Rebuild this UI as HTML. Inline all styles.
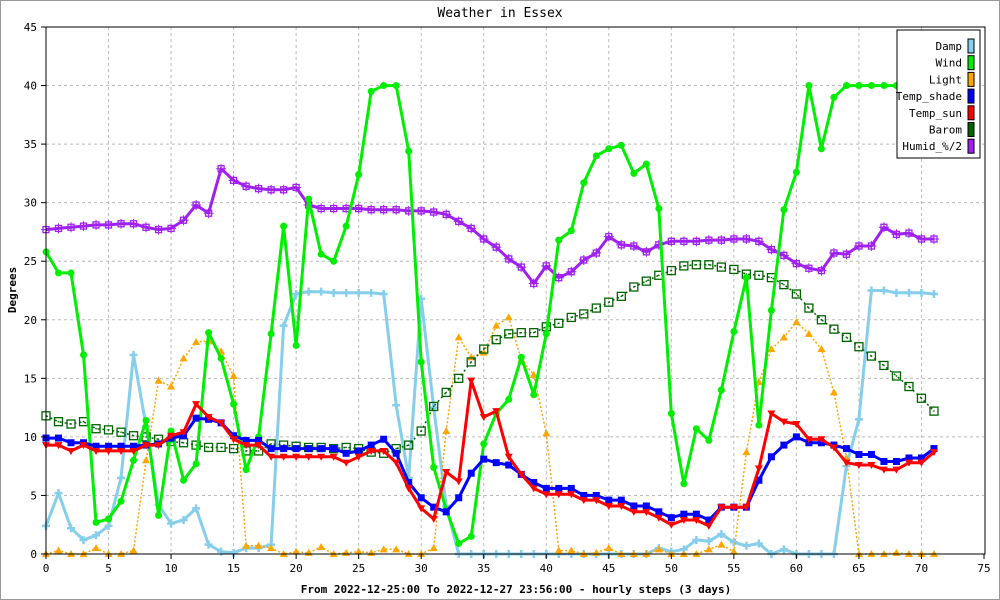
<!DOCTYPE html>
<html><head><meta charset="utf-8"><style>
body{margin:0;background:#fff}
svg{display:block;font-family:"DejaVu Sans Mono","Liberation Mono",monospace}
</style></head><body>
<svg id="chart" width="1000" height="600" viewBox="0 0 1000 600" xmlns="http://www.w3.org/2000/svg">
<rect x="0.5" y="0.5" width="999" height="599" fill="#fff" stroke="#999"/>
<text x="500" y="17" text-anchor="middle" font-size="13">Weather in Essex</text>
<text x="516" y="593" text-anchor="middle" font-size="11" font-weight="bold">From 2022-12-25:00 To 2022-12-27 23:56:00 - hourly steps (3 days)</text>
<text transform="translate(16,290) rotate(-90)" text-anchor="middle" font-size="11" font-weight="bold">Degrees</text>
<g id="grid"></g><g id="series"></g><g id="axes"></g><g id="legend"></g>
</svg>
<script>
const xTicks=[0,5,10,15,20,25,30,35,40,45,50,55,60,65,70,75];
const yTicks=[0,5,10,15,20,25,30,35,40,45];
const damp=[2.4,5.2,2.2,1.2,1.6,2.4,6.5,17,10.9,4.2,2.6,2.9,3.9,0.8,0.2,0.1,0.5,0.5,0.8,19.5,22.2,22.4,22.4,22.3,22.3,22.3,22.3,22.2,12.7,6.5,21.8,12.5,4.1,0,0,0,0,0,0,0,0,0,0,0,0,0,0,0,0,0.5,0.2,0.4,1.2,1.1,1.7,1.0,0.7,0.9,0,0.4,0,0,0,0,7.5,11.5,22.5,22.5,22.3,22.3,22.3,22.2];
const wind=[25.8,24,24,17,2.7,3,4.5,8,11.4,3.3,10.5,6.3,7.7,18.9,16.7,12.8,7.2,10,18.8,28,17.8,30.3,25.6,25,28,32.4,39.5,40,40,34.4,16.4,7.4,3.8,0.9,1.5,9.4,12,13.2,16.8,13.6,18.8,26.8,27.6,31.7,34,34.6,34.9,32.5,33.3,29.5,12,6,10.7,9.7,14,19,23.6,11,20.8,29.4,32.6,40,34.6,39,40,40,40,40,40,40,40,40];
const light=[0,0.3,0,0,0.5,0,0,0.3,8,14.8,14.3,16.7,18.1,18.2,17.3,15.2,0.7,0.7,0.5,0,0.2,0.1,0.6,0,0.1,0.2,0.1,0.4,0.4,0,0,0.5,10.5,18.5,16.8,17.2,19.5,20.2,16.6,15.3,10.3,0.3,0.3,0,0.1,0.5,0,0,0,0.4,0,0,0,0.4,0.8,0.2,8.7,14.7,17.5,18.5,19.8,18.8,17.5,13.8,8.2,0,0,0,0.1,0,0,0];
const tshade=[9.9,9.9,9.5,9.5,9.2,9.2,9.2,9.2,9.3,9.4,9.9,10.1,11.6,11.5,11.2,10.1,9.7,9.7,9,9,9,9,9,9,8.6,8.8,9.3,9.8,8.6,6.1,4.8,4,3.6,4.8,6.9,8.1,7.8,7.6,6.8,6.1,5.6,5.6,5.6,5.0,5.0,4.6,4.6,4.1,4.1,3.6,3.1,3.4,3.4,2.9,4,4,4,6.3,8.3,9.3,10,9.5,9.5,9.3,9,8.5,8.5,7.9,7.9,8.2,8.2,9];
const tsun=[9.3,9.3,8.8,9.3,8.8,8.8,8.8,8.8,9.3,9.3,10.1,10.4,12.8,11.7,11.2,9.8,9.3,9.3,8.3,8.3,8.3,8.3,8.3,8.3,7.8,8.3,8.8,8.8,7.8,5.6,3.9,3,7,6.2,14.8,11.7,12.2,8.3,6.8,5.6,5.1,5.1,5.1,4.6,4.6,4.1,4.1,3.6,3.6,3.1,2.5,2.9,2.9,2.4,4,4,4,7.3,12,11.3,11.1,9.8,9.8,9.1,7.8,7.6,7.6,7.2,7.2,7.8,7.8,8.7];
const barom=[11.8,11.3,11.1,11.3,10.7,10.6,10.4,10.1,10,9.8,9.6,9.5,9.3,9.1,9.1,9.0,8.8,8.8,9.4,9.3,9.2,9.1,9.1,9.0,9.1,9.0,8.7,8.6,9,9.3,10.5,12.6,13.8,15,16.4,17.5,18.3,18.8,18.9,18.9,19.4,19.7,20.2,20.5,21,21.5,22.0,22.8,23.3,23.8,24.2,24.6,24.7,24.7,24.5,24.3,23.9,23.8,23.6,23,22.2,21,20,19.2,18.5,17.7,16.9,16.1,15.2,14.3,13.3,12.2];
const humid=[27.7,27.8,27.9,28,28.1,28.1,28.2,28.2,27.9,27.7,27.8,28.5,29.8,29.1,32.9,31.9,31.4,31.2,31.1,31.1,31.3,29.8,29.5,29.5,29.5,29.5,29.4,29.4,29.4,29.3,29.3,29.2,29.0,28.4,27.8,26.9,26.2,25.2,24.5,23.1,24.6,23.6,24.1,25.1,25.7,27.1,26.4,26.3,25.8,26.4,26.7,26.7,26.7,26.8,26.8,26.9,26.9,26.7,26.0,25.5,24.8,24.4,24.2,25.7,25.6,26.3,26.3,27.9,27.3,27.4,26.9,26.9];

const X0=46,X1=984,Y0=554,Y1=27;
const xs=v=>X0+(X1-X0)*v/75;
const ys=v=>Y0-(Y0-Y1)*v/45;
const NS="http://www.w3.org/2000/svg";
function mk(tag,attrs,parent){const e=document.createElementNS(NS,tag);for(const k in attrs)e.setAttribute(k,attrs[k]);parent.appendChild(e);return e;}
const grid=document.getElementById('grid'),axes=document.getElementById('axes'),ser=document.getElementById('series'),leg=document.getElementById('legend');
xTicks.forEach(t=>{
  if(t>0&&t<75){const l=mk('line',{x1:xs(t),x2:xs(t),y1:Y1,y2:Y0,stroke:'#bbb','stroke-dasharray':'3,3'},grid);
  
  }
  const tk=mk('line',{x1:xs(t),x2:xs(t),y1:Y0,y2:Y0+5,stroke:'#000'},axes);
  
  
  const tx=mk('text',{x:xs(t),y:Y0+18,'text-anchor':'middle','font-size':11},axes);tx.textContent=t;
  
  
});
yTicks.forEach(t=>{
  if(t>0&&t<45){const l=mk('line',{x1:X0,x2:X1,y1:ys(t),y2:ys(t),stroke:'#bbb','stroke-dasharray':'3,3'},grid);
  
  }
  const tk=mk('line',{x1:X0-5,x2:X0,y1:ys(t),y2:ys(t),stroke:'#000'},axes);
  
  
  const tx=mk('text',{x:X0-9,y:ys(t)+4,'text-anchor':'end','font-size':11},axes);tx.textContent=t;
  
  
});
const frame=mk('rect',{x:X0,y:Y1,width:X1-X0+1,height:Y0-Y1,fill:'none',stroke:'#000'},axes);



function marker(kind,x,y,c,g){
  if(kind==='circle')return mk('circle',{cx:x,cy:y,r:3.5,fill:c},g);
  if(kind==='up')return mk('polygon',{points:`${x},${y-4} ${x-4},${y+3} ${x+4},${y+3}`,fill:c},g);
  if(kind==='down')return mk('polygon',{points:`${x},${y+4} ${x-4},${y-3} ${x+4},${y-3}`,fill:c},g);
  if(kind==='square')return mk('rect',{x:x-3.5,y:y-3.5,width:7,height:7,fill:c},g);
  if(kind==='osq'){const r=mk('rect',{x:x-4,y:y-4,width:8,height:8,fill:'none',stroke:c,'stroke-width':1.3},g);mk('rect',{x:x-0.7,y:y-0.7,width:1.4,height:1.4,fill:c},g);return r;}
  if(kind==='xsq'){const r=mk('rect',{x:x-3,y:y-3,width:6,height:6,fill:'none',stroke:c,'stroke-width':1.3},g);mk('path',{d:`M${x-5},${y}H${x+5}M${x},${y-5}V${y+5}`,stroke:c,'stroke-width':1},g);return r;}
  if(kind==='diamond')return mk('path',{d:`M${x-4},${y}H${x+4}M${x},${y-4}V${y+4}`,stroke:c,'stroke-width':2.5},g);
}
const series=[
 {name:'damp',data:damp,c:'#87ceeb',w:3,dash:null,m:'diamond'},
 {name:'light',data:light,c:'#ffa500',w:1.5,dash:'2,2',m:'up'},
 {name:'barom',data:barom,c:'#006400',w:1.5,dash:'2,3',m:'osq'},
 {name:'humid',data:humid,c:'#a020f0',w:3,dash:null,m:'xsq'},
 {name:'wind',data:wind,c:'#00ee00',w:3,dash:null,m:'circle'},
 {name:'temp-shade',data:tshade,c:'#0000ff',w:3,dash:null,m:'square'},
 {name:'temp-sun',data:tsun,c:'#ff0000',w:3,dash:null,m:'down'}
];
series.forEach(s=>{
  const g=mk('g',{},ser);
  
  
  const pts=s.data.map((v,i)=>`${xs(i).toFixed(1)},${ys(v).toFixed(1)}`).join(' ');
  const a={points:pts,fill:'none',stroke:s.c,'stroke-width':s.w,'stroke-linejoin':'round'};
  if(s.dash)a['stroke-dasharray']=s.dash;
  const pl=mk('polyline',a,g);
  
  
  s.data.forEach((v,i)=>{
    const p=marker(s.m,xs(i),ys(v),s.c,g);
    
    
  });
});
const legItems=[['Damp','#87ceeb'],['Wind','#00ee00'],['Light','#ffa500'],['Temp_shade','#0000ff'],['Temp_sun','#ff0000'],['Barom','#006400'],['Humid_%/2','#a020f0']];
const lb=mk('rect',{x:897,y:30,width:83,height:128,fill:'#fff',stroke:'#000'},leg);


legItems.forEach((it,i)=>{
  const y=46+i*16.7;
  const t=mk('text',{x:962,y:y+4,'text-anchor':'end','font-size':11},leg);t.textContent=it[0];
  
  
  const sw=mk('rect',{x:968,y:y-7,width:6,height:14,fill:it[1],stroke:'#000'},leg);
  
  
});
</script>
</body></html>
